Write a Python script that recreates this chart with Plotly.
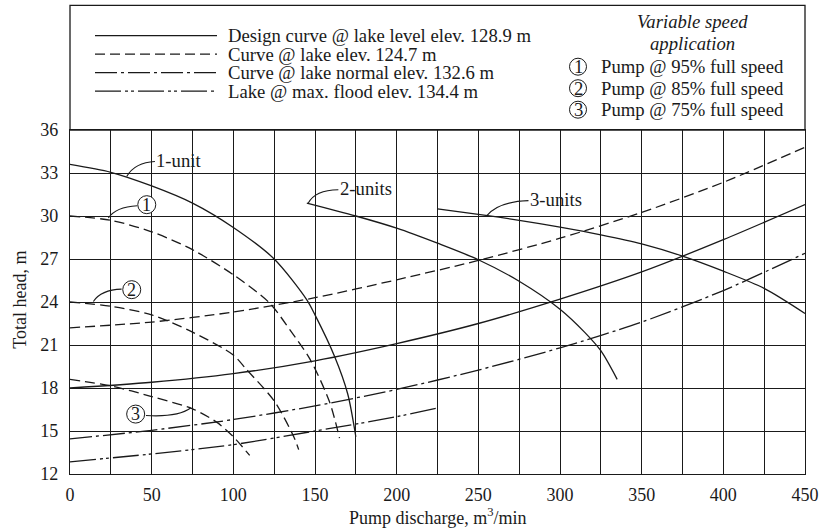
import plotly.graph_objects as go

# ---------------- data ----------------
# pump curves (solid)
one_unit_x = [0, 25, 50, 75, 100, 125, 145, 150, 162, 170, 175]
one_unit_y = [33.6, 33.05, 32.1, 30.9, 29.2, 27.0, 24.15, 23.1, 20.2, 17.6, 14.6]
two_units_x = [145, 175, 200, 225, 250, 275, 300, 315, 325, 335]
two_units_y = [30.9, 30.0, 29.15, 28.1, 26.95, 25.45, 23.5, 21.9, 20.6, 18.6]
three_units_x = [225, 250, 275, 300, 325, 350, 375, 400, 425, 450]
three_units_y = [30.5, 30.12, 29.7, 29.22, 28.68, 28.05, 27.2, 26.15, 24.95, 23.2]

# variable speed pump curves (dashed)
speed95_x = [0, 25, 50, 75, 100, 122, 135, 147, 159, 165]
speed95_y = [30.0, 29.7, 28.9, 27.65, 25.9, 23.95, 22.0, 20.0, 17.0, 14.5]
speed85_x = [0, 25, 50, 75, 100, 108, 125, 137, 140]
speed85_y = [24.0, 23.7, 23.1, 21.9, 20.3, 19.3, 17.1, 14.6, 13.7]
speed75_x = [0, 25, 50, 75, 90, 100, 110]
speed75_y = [18.6, 18.15, 17.4, 16.55, 15.6, 14.6, 13.3]

# system curves
design_x = [0, 50, 100, 150, 200, 250, 300, 350, 400, 450]
design_y = [18.0, 18.4, 19.0, 19.9, 21.1, 22.5, 24.2, 26.1, 28.35, 30.8]
low_x = [0, 50, 100, 150, 200, 250, 300, 350, 400, 450]
low_y = [22.2, 22.6, 23.3, 24.3, 25.55, 26.9, 28.45, 30.25, 32.35, 34.8]
normal_x = [0, 50, 100, 150, 200, 250, 300, 350, 400, 450]
normal_y = [14.45, 15.05, 15.8, 16.75, 17.9, 19.25, 20.8, 22.6, 24.8, 27.4]
flood_x = [0, 50, 100, 150, 200, 225]
flood_y = [12.85, 13.4, 14.05, 15.0, 16.0, 16.6]

x_ticks = [0, 50, 100, 150, 200, 250, 300, 350, 400, 450]
y_ticks = [12, 15, 18, 21, 24, 27, 30, 33, 36]

legend_left = ["Design curve @ lake level elev. 128.9 m",
               "Curve @ lake elev. 124.7 m",
               "Curve @ lake normal elev. 132.6 m",
               "Lake @ max. flood elev. 134.4 m"]
legend_right = ["Pump @ 95% full speed", "Pump @ 85% full speed", "Pump @ 75% full speed"]

# ---------------- style ----------------
FONT = "Liberation Serif"
INK = "#1a1a1a"
FS = 18
FL = 18.7
SOLID = "solid"
DASH = "10px,5px"
DASHDOT = "22px,4px,3px,4px"
DASHDOTDOT = "26px,4px,3px,3px,3px,4px"
LW = 1.3

fig = go.Figure()

def add(x, y, dash):
    fig.add_trace(go.Scatter(x=x, y=y, mode="lines",
                             line=dict(color=INK, width=LW, dash=dash, shape="spline", smoothing=0.8),
                             showlegend=False, hoverinfo="skip"))

add(one_unit_x, one_unit_y, SOLID)
add(two_units_x, two_units_y, SOLID)
add(three_units_x, three_units_y, SOLID)
add(speed95_x, speed95_y, DASH)
add(speed85_x, speed85_y, DASH)
add(speed75_x, speed75_y, DASH)
add(design_x, design_y, SOLID)
add(low_x, low_y, DASH)
add(normal_x, normal_y, DASHDOT)
add(flood_x, flood_y, DASHDOTDOT)

shapes = []
annotations = []

# plot-area pixel helpers (screen pixels -> paper coords)
PL, PR, PT, PB = 70, 805, 130.3, 474.3
def py(p):
    return (PB - p) / (PB - PT)

def px(p):
    return (p - PL) / (PR - PL)

# legend box above plot
shapes.append(dict(type="rect", xref="paper", yref="paper", x0=0, x1=1, y0=1, y1=py(5.7),
                   line=dict(color=INK, width=1.3)))

left_rows = [36, 54.5, 73, 91.5]
left_dash = [SOLID, DASH, DASHDOT, DASHDOTDOT]
for txt, row, d in zip(legend_left, left_rows, left_dash):
    shapes.append(dict(type="line", xref="paper", yref="paper", x0=px(95), x1=px(217),
                       y0=py(row), y1=py(row), line=dict(color=INK, width=LW, dash=d)))
    annotations.append(dict(xref="paper", yref="paper", x=px(226), y=py(row), text=txt,
                            showarrow=False, xanchor="left", yanchor="middle",
                            font=dict(family=FONT, size=FL, color=INK)))

annotations.append(dict(xref="paper", yref="paper", x=px(692), y=py(22), text="<i>Variable speed</i>",
                        showarrow=False, xanchor="center", yanchor="middle",
                        font=dict(family=FONT, size=FL, color=INK)))
annotations.append(dict(xref="paper", yref="paper", x=px(692), y=py(44), text="<i>application</i>",
                        showarrow=False, xanchor="center", yanchor="middle",
                        font=dict(family=FONT, size=FL, color=INK)))
right_rows = [67, 88.5, 110]
for i, (txt, row) in enumerate(zip(legend_right, right_rows)):
    shapes.append(dict(type="circle", xref="paper", yref="paper", xsizemode="pixel", ysizemode="pixel",
                       xanchor=px(578), yanchor=py(row), x0=-8.5, x1=8.5, y0=-8.5, y1=8.5,
                       line=dict(color=INK, width=1)))
    annotations.append(dict(xref="paper", yref="paper", x=px(578), y=py(row), text=str(i + 1),
                            showarrow=False, xanchor="center", yanchor="middle",
                            font=dict(family=FONT, size=FL, color=INK)))
    annotations.append(dict(xref="paper", yref="paper", x=px(599), y=py(row), text=txt,
                            showarrow=False, xanchor="left", yanchor="middle",
                            font=dict(family=FONT, size=FL, color=INK)))

# leader lines (data coords)
def leader(x0, y0, x1, y1, cx, cy):
    shapes.append(dict(type="path", xref="x", yref="y",
                       path=f"M {x0},{y0} Q {cx},{cy} {x1},{y1}",
                       line=dict(color=INK, width=1.1)))

leader(34.7, 32.76, 52, 33.8, 40, 33.75)
leader(23.5, 29.86, 41.2, 30.72, 28, 30.65)
leader(14.3, 24.04, 31.6, 24.9, 19, 24.85)
leader(46.5, 16.08, 73.9, 16.6, 66, 15.95)
leader(145.9, 30.9, 164.3, 31.83, 150, 31.8)
leader(255.2, 30.02, 280.7, 31.07, 262, 31.0)

def label(x, y, t):
    annotations.append(dict(xref="x", yref="y", x=x, y=y, text=t, showarrow=False,
                            xanchor="left", yanchor="middle",
                            font=dict(family=FONT, size=FL, color=INK)))

label(51.5, 33.9, "1-unit")
label(164, 31.9, "2-units")
label(280.5, 31.15, "3-units")

def circ(x, y, n):
    shapes.append(dict(type="circle", xref="x", yref="y", xsizemode="pixel", ysizemode="pixel",
                       xanchor=x, yanchor=y, x0=-9, x1=9, y0=-9, y1=9,
                       line=dict(color=INK, width=1), fillcolor="white"))
    annotations.append(dict(xref="x", yref="y", x=x, y=y, text=str(n), showarrow=False,
                            xanchor="center", yanchor="middle",
                            font=dict(family=FONT, size=FS, color=INK)))

circ(47, 30.79, 1)
circ(37.8, 24.86, 2)
circ(40.2, 16.18, 3)

# axis titles
annotations.append(dict(xref="paper", yref="paper", x=px(437), y=py(517),
                        text="Pump discharge, m<sup>3</sup>/min",
                        showarrow=False, xanchor="center", yanchor="middle",
                        font=dict(family=FONT, size=FS, color=INK)))
annotations.append(dict(xref="paper", yref="paper", x=px(20), y=py(300), text="Total head, m",
                        showarrow=False, textangle=-90, xanchor="center", yanchor="middle",
                        font=dict(family=FONT, size=FS, color=INK)))

fig.update_layout(
    width=820, height=529,
    margin=dict(l=70, r=15, t=130, b=55, autoexpand=False),
    paper_bgcolor="white", plot_bgcolor="white",
    shapes=shapes, annotations=annotations,
    font=dict(family=FONT, size=FS, color=INK),
    xaxis=dict(range=[0, 450], tickvals=x_ticks, ticks="", showline=True, mirror=True,
               linecolor=INK, linewidth=1.3, showgrid=True, gridcolor=INK, gridwidth=1.2,
               minor=dict(dtick=25, tick0=0, showgrid=True, gridcolor=INK, gridwidth=1.2),
               zeroline=False, automargin=False, ticklabelstandoff=4,
               tickfont=dict(family=FONT, size=FS, color=INK)),
    yaxis=dict(range=[12, 36], tickvals=y_ticks, ticks="", showline=True, mirror=True,
               linecolor=INK, linewidth=1.3, showgrid=True, gridcolor=INK, gridwidth=1.2,
               zeroline=False, automargin=False, ticklabelstandoff=7,
               tickfont=dict(family=FONT, size=FS, color=INK)),
)

# remove the default page margin and scrollbars so the figure sits exactly in the window
page_js = ("document.documentElement.style.overflow='hidden';"
           "document.body.style.overflow='hidden';"
           "document.body.style.margin='0px';")
fig.write_html("out.html", post_script=page_js,
               config={"displayModeBar": False, "responsive": False})
